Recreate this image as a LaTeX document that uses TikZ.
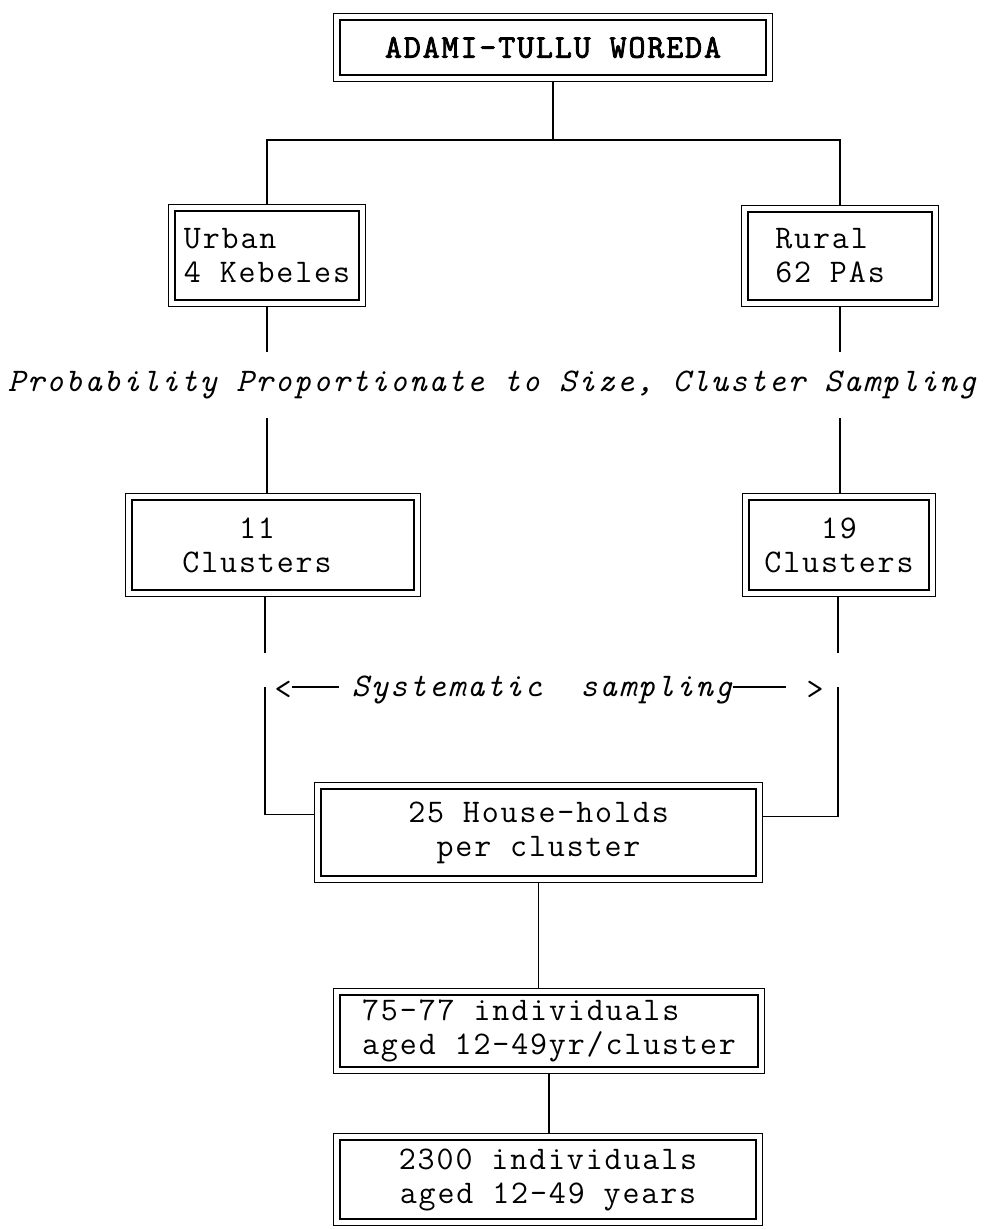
\documentclass[tikz,border=0pt]{standalone}
\usepackage{fontspec}
\setmainfont{Latin Modern Mono}[LetterSpace=5.7, AutoFakeBold=2.5]
\usetikzlibrary{positioning}

\begin{document}
\begin{tikzpicture}[x=0.5pt,y=-0.5pt,
  dbox/.style={draw, double, double distance=2.6pt, line width=0.6pt,
    outer sep=1.9pt, inner sep=0pt, align=center,
    font=\fontsize{16.5}{17}\selectfont},
  link/.style={line width=0.7pt},
  lbl/.style={inner sep=0pt, font=\fontsize{16.5}{17}\selectfont}]

\useasboundingbox (0,0) rectangle (987,1230);

% ------------------------
% Boxes
% ------------------------
\node[dbox, minimum width=216.2pt, minimum height=30.7pt]
  (woreda) at (553,47.5) {\bfseries ADAMI-TULLU WOREDA};
\node[dbox, align=left, minimum width=95.2pt, minimum height=47.7pt]
  (urban) at (267,255.5) {Urban\\4 Kebeles};
\node[dbox, align=left, minimum width=95.2pt, minimum height=47.2pt]
  (rural) at (840,256) {Rural\\62 PAs\hspace*{10pt}};
\node[dbox, minimum width=144.2pt, minimum height=48.2pt]
  (clustU) at (273,545) {11\hspace*{16pt}\\Clusters\hspace*{16pt}};
\node[dbox, minimum width=93.2pt, minimum height=48.2pt]
  (clustR) at (839,545) {19\\Clusters};
\node[dbox, minimum width=220.7pt, minimum height=46.7pt]
  (house) at (538.5,832.5) {25 House-holds\\per cluster};
\node[dbox, align=left, minimum width=212.2pt, minimum height=39.2pt]
  (indiv) at (549,1031) {75-77 individuals\\aged 12-49yr/cluster};
\node[dbox, minimum width=211.2pt, minimum height=42.7pt]
  (total) at (548,1179.5) {2300 individuals\\aged 12-49 years};

% ------------------------
% Labels
% ------------------------
\node[lbl] (pps) at (492,385)
  {\itshape Probability Proportionate to Size, Cluster Sampling};
\node[lbl] (sys) at (542,690) {\itshape Systematic\ \ sampling};
\node[lbl] (lt) at (283,690) {<};
\node[lbl] (gt) at (815,690) {>};

% free ends of the split lines
\coordinate (bus) at (553,140);
\coordinate (ua) at (267,352);
\coordinate (ub) at (267,418);
\coordinate (ra) at (840,352);
\coordinate (rb) at (840,418);
\coordinate (ca) at (265,653);
\coordinate (cb) at (265,687);
\coordinate (da) at (838,653);
\coordinate (db) at (838,687);

% ------------------------
% Connectors
% ------------------------
\draw[link] (woreda.south) -- (bus);
\draw[link] (urban.north) |- (bus) -| (rural.north);
\draw[link] (urban.south) -- (ua);
\draw[link] (rural.south) -- (ra);
\draw[link] (ub) -- (ub |- clustU.north);
\draw[link] (rb) -- (rb |- clustR.north);
\draw[link] (ca |- clustU.south) -- (ca);
\draw[link] (da |- clustR.south) -- (da);
\draw[link] (cb) |- ([yshift=9pt]house.west);
\draw[link] (db) |- ([yshift=8pt]house.east);
\draw[link] (house.south) -- (house.south |- indiv.north);
\draw[link] (indiv.south) -- (indiv.south |- total.north);

% arrows of the systematic sampling row
\draw[link, shorten >=6pt] ([yshift=1.5pt]lt.east) -- ([yshift=1.5pt]sys.west);
\draw[link, shorten >=10pt] ([yshift=1.5pt]sys.east) -- ([yshift=1.5pt]gt.west);

\end{tikzpicture}
\end{document}
